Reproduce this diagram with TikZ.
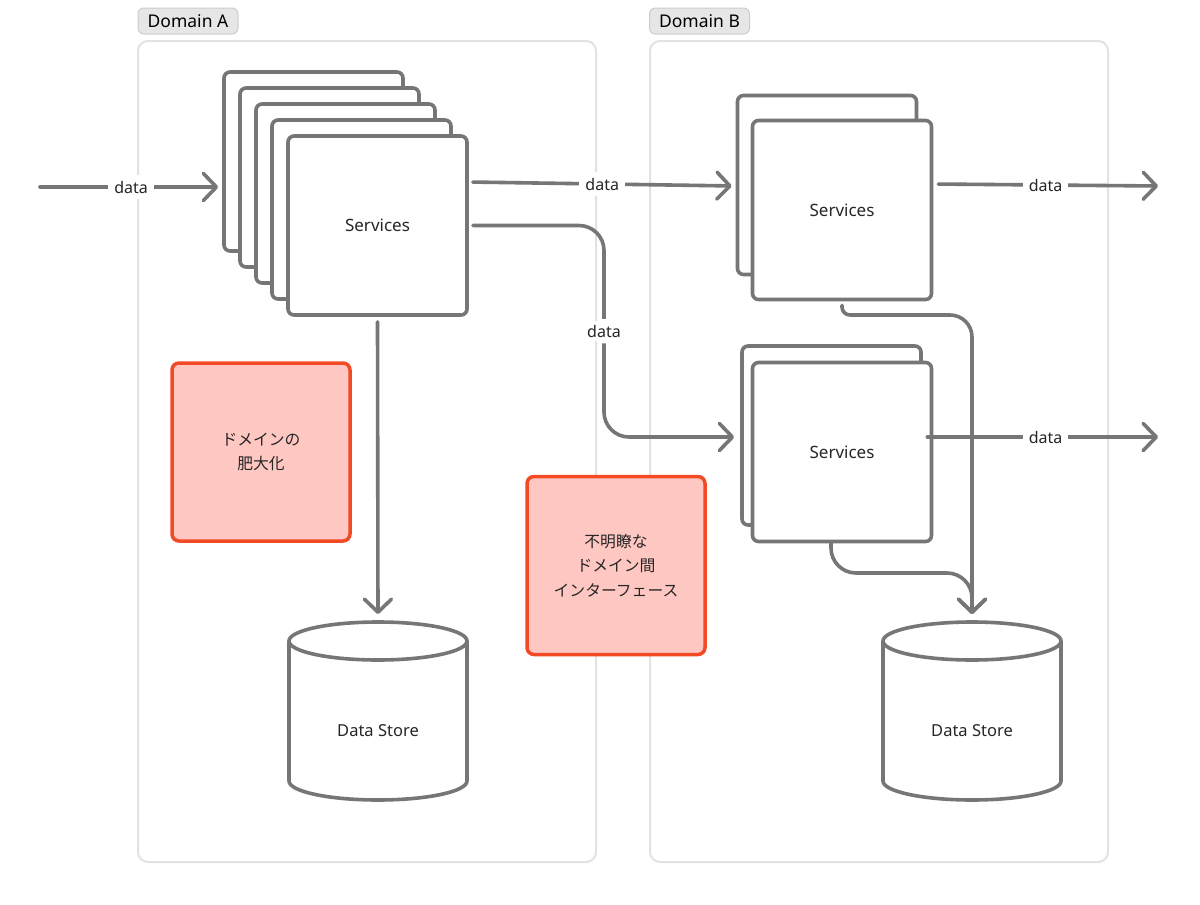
\documentclass[tikz,border=0pt]{standalone}
\usepackage{fontspec}
\setmainfont{Noto Sans}
\newfontfamily\jpfont{Noto Sans CJK JP}
\usetikzlibrary{arrows.meta}
\definecolor{ink}{RGB}{118,118,118}
\definecolor{txt}{RGB}{38,38,38}
\definecolor{frame}{RGB}{226,226,226}
\definecolor{tagfill}{RGB}{230,230,230}
\definecolor{tagline}{RGB}{204,204,204}
\definecolor{warnline}{RGB}{242,74,36}
\definecolor{warnfill}{RGB}{255,199,194}
\begin{document}
\begin{tikzpicture}[x=1pt,y=-1pt,
  svc/.style={draw=ink,line width=3.6pt,fill=white,rounded corners=6pt,minimum width=179pt,minimum height=179pt,text=txt,font=\fontsize{17}{20}\selectfont},
  flow/.style={draw=ink,line width=3.6pt,line cap=round,-{Straight Barb[length=13pt,width=27pt,round]}},
  lbl/.style={fill=white,text=txt,inner sep=6pt,font=\fontsize{16}{19}\selectfont},
  tag/.style={draw=tagline,fill=tagfill,line width=1pt,rounded corners=6pt,minimum width=100pt,minimum height=26pt,inner sep=0pt,text=black,font=\fontsize{17.5}{20}\selectfont},
  domframe/.style={draw=frame,line width=2pt,rounded corners=10pt},
  issue/.style={draw=warnline,fill=warnfill,line width=3.5pt,rounded corners=7pt,minimum width=178pt,minimum height=178pt,align=center,text=txt,font=\jpfont\fontsize{15.8}{24.5}\selectfont},
  store/.style={draw=ink,line width=3.6pt,fill=white}]
\fill[white] (0,0) rectangle (1200,905);
\useasboundingbox (0,0) rectangle (1200,905);

\draw[domframe] (138,41) rectangle (596,862);
\draw[domframe] (650,41) rectangle (1108,862);
\node[tag] (tagA) at (188,21) {Domain A};
\node[tag] (tagB) at (699.5,21) {Domain B};

\node[issue] (iss1) at (261,452) {ドメインの\\肥大化};
\node[issue] (iss2) at (616,565.5) {不明瞭な\\ドメイン間\\インターフェース};

\foreach \i in {0,...,3} \node[svc] (sa\i) at (313.5+16*\i,161.5+16*\i) {};
\node[svc] (sa4) at (377.5,225.5) {Services};
\node[svc] (tb0) at (827,185) {};
\node[svc] (tb1) at (842,210) {Services};
\node[svc] (lb0) at (831.5,435.5) {};
\node[svc] (lb1) at (842,452) {Services};

\foreach \x/\n in {378/A,972/B}{
  \draw[store] (\x-89,641) -- (\x-89,781) arc[start angle=180,end angle=0,x radius=89,y radius=19] -- (\x+89,641);
  \draw[store] (\x,641) ellipse [x radius=89,y radius=19];
  \coordinate (top\n) at (\x,622);
  \node[text=txt,font=\fontsize{16.5}{19}\selectfont] (ds\n) at (\x,731) {Data Store};
}

\coordinate (inA) at (40,187);
\coordinate (outB1) at (1158,186);
\coordinate (outB2) at (1158,437);
\draw[flow,shorten >=4pt] (inA) -- node[lbl] (d1) {data} (inA -| sa0.west);
\draw[flow,shorten <=4pt,shorten >=4pt] (sa4.east |- 0,182) -- node[lbl] (d2) {data} (tb0.west |- 0,186);
\draw[flow,rounded corners=25pt,shorten <=4pt,shorten >=6pt] (sa4.east) -- (604,225.5) -- node[lbl] (d3) {data} (604,437) -- (lb0.west |- 0,437);
\draw[flow,shorten <=5pt,shorten >=8pt] (sa4.south) -- (topA);
\draw[flow,shorten <=5pt] (tb1.east |- 0,184) -- node[lbl] (d4) {data} (outB1);
\draw[flow,shorten <=-6pt] (lb1.east |- 0,437) -- node[lbl] (d5) {data} (outB2);
\draw[flow,shorten <=4pt,shorten >=8pt] (tb1.south) [rounded corners=8pt] -- (842,315) [rounded corners=22pt] -- (972,315) -- (topB);
\draw[flow,rounded corners=25pt,shorten >=8pt] (lb1.south -| 831,0) -- (831,573) -- (972,573) -- (topB);
\end{tikzpicture}
\end{document}
